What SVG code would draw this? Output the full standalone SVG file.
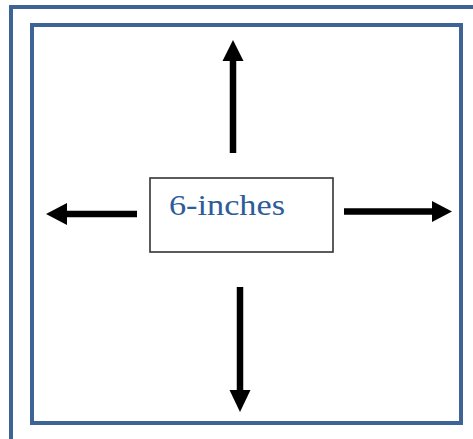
<svg xmlns="http://www.w3.org/2000/svg" width="473" height="439" viewBox="0 0 473 439">
<style>
.frame{fill:none;stroke:#3e6497;stroke-width:4}
.shaft{stroke:#000;stroke-width:6.5;fill:none}
.head{fill:#000}
.box{fill:#fff;stroke:#333;stroke-width:1.6}
.lbl{font-family:"Liberation Serif","DejaVu Serif",serif;font-size:29px;fill:#2e5c99}
</style>
<rect width="473" height="439" fill="#fff"/>
<g id="outer-frame"><rect class="frame" x="11" y="7" width="470" height="440"/></g>
<g id="inner-frame"><rect class="frame" x="32" y="25" width="429" height="398"/></g>
<g id="connectors">
<line class="shaft" x1="233" y1="153" x2="233" y2="58"/>
<polygon class="head" points="233,40 222.5,61 243.5,61"/>
<line class="shaft" x1="240" y1="287" x2="240" y2="392"/>
<polygon class="head" points="240,412 229.5,390 250.5,390"/>
<line class="shaft" x1="137" y1="214" x2="65" y2="214"/>
<polygon class="head" points="46,214 67,203 67,225"/>
<line class="shaft" x1="344" y1="211.5" x2="434" y2="211.5"/>
<polygon class="head" points="452,211.5 432,201 432,222"/>
</g>
<g id="box">
<rect class="box" x="150" y="178" width="183" height="74"/>
<text class="lbl" x="169" y="215" textLength="116" lengthAdjust="spacingAndGlyphs">6-inches</text>
</g>
</svg>
